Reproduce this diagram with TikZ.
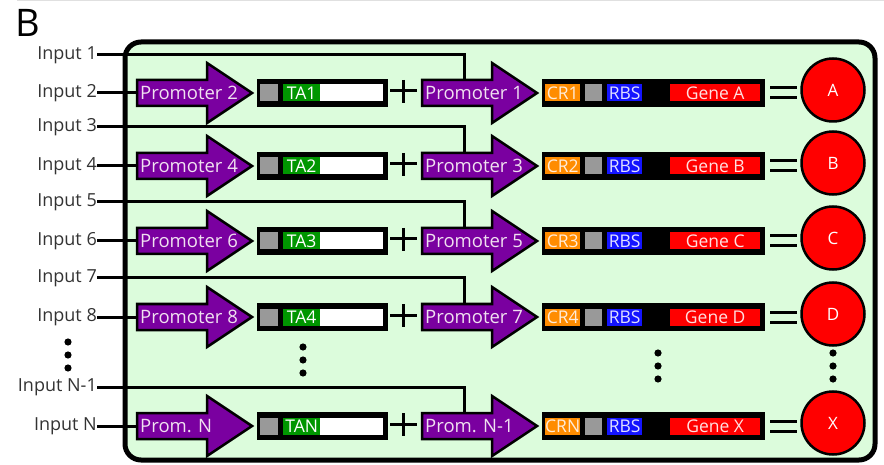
\documentclass[tikz,border=0pt]{standalone}
\usepackage{fontspec}
\setmainfont{Open Sans}
\usetikzlibrary{positioning}

\definecolor{panelgreen}{RGB}{220,252,220}
\definecolor{promopurple}{RGB}{122,0,160}
\definecolor{tagreen}{RGB}{0,150,0}
\definecolor{crorange}{RGB}{255,140,0}
\definecolor{rbsblue}{RGB}{20,20,255}
\definecolor{genered}{RGB}{255,0,0}

\tikzset{
  inlabel/.style={inner sep=0pt, anchor=east, text=black!80,
    font=\fontsize{18}{18}\selectfont},
  wire/.style={line width=3pt},
  promo/.style={fill=promopurple, draw=black, line width=2.5pt, line join=miter},
  promotext/.style={inner sep=0pt, anchor=west, text=violet!12!white,
    font=\fontsize{18.5}{18.5}\selectfont},
  part/.style={draw=black, line width=3pt, fill=black, inner sep=0pt,
    minimum height=25pt, anchor=west},
  chunk/.style={inner sep=0pt, minimum height=17pt, anchor=west,
    font=\fontsize{17.5}{17.5}\selectfont},
  product/.style={circle, draw=black, line width=2.5pt, fill=genered,
    minimum size=63pt, inner sep=0pt, text=white,
    font=\fontsize{17}{17}\selectfont},
  bar/.style={line width=3pt},
  dot/.style={fill=black}
}

% promoter arrow: name, x, y, text
\newcommand{\promarrow}[4]{%
  \draw[promo] (#2,#3-13) -- ++(70,0) -- ++(0,-17) -- ++(45,30)
    -- ++(-45,30) -- ++(0,-17) -- ++(-70,0) -- cycle;
  \coordinate (#1-w) at (#2,#3);
  \coordinate (#1-n) at (#2+42,#3-13);
  \coordinate (#1-tip) at (#2+115,#3);
  \node[promotext] (#1) at (#2+3,#3) {#4};
}

\begin{document}
\begin{tikzpicture}[x=1pt, y=-1pt]
  \useasboundingbox (0,0) rectangle (884,465);
  \draw[black!12, line width=1pt] (17,1) -- (884,1);
  \node[anchor=base west, inner sep=0pt, font=\fontsize{38}{38}\selectfont]
    (panel) at (15,37) {B};
  \draw[line width=5pt, fill=panelgreen, rounded corners=16pt]
    (125,42) rectangle (875,460);

  \foreach \i/\y/\ya/\na/\nb/\pa/\pb/\ta/\cr/\g/\c in
    {1/93/55/Input 1/Input 2/Promoter 2/Promoter 1/TA1/CR1/Gene A/A,
     2/166/127/Input 3/Input 4/Promoter 4/Promoter 3/TA2/CR2/Gene B/B,
     3/241/202/Input 5/Input 6/Promoter 6/Promoter 5/TA3/CR3/Gene C/C,
     4/317/278/Input 7/Input 8/Promoter 8/Promoter 7/TA4/CR4/Gene D/D,
     5/426/387/Input N-1/Input N/Prom. N/Prom. N-1/TAN/CRN/Gene X/X} {
    % inputs
    \node[inlabel] (ina\i) at (97,\ya) {\na};
    \node[inlabel] (inb\i) at (97,\y) {\nb};
    % activator promoter and TA part
    \promarrow{pb\i}{137}{\y}{\pa}
    \node[part, minimum width=128pt] (ta\i) at (257,\y) {};
    \node[chunk, fill=black!40, minimum width=18pt] (tag\i) at (260,\y) {};
    \node[chunk, fill=tagreen, minimum width=37pt, text=white] (tan\i)
      at (283,\y) {\ta};
    \node[chunk, fill=white, minimum width=63pt] (taw\i) at (320,\y) {};
    \draw[bar] (390,\y-2) -- (417,\y-2) (403.5,\y-13) -- (403.5,\y+10);
    % target promoter and gene
    \promarrow{pa\i}{422}{\y}{\pb}
    \node[part, minimum width=220pt] (cr\i) at (542,\y) {};
    \node[chunk, fill=crorange, minimum width=35pt, text=orange!15!white]
      (crn\i) at (545,\y) {\cr};
    \node[chunk, fill=black!40, minimum width=17pt] (crg\i) at (585,\y) {};
    \node[chunk, fill=rbsblue, minimum width=35pt, text=blue!12!white]
      (rbs\i) at (607,\y) {RBS};
    \node[chunk, fill=genered, minimum width=90pt, text=red!12!white]
      (gene\i) at (670,\y) {\g};
    \draw[bar] (770,\y-5) -- (797,\y-5) (770,\y+5) -- (797,\y+5);
    \node[product] (prod\i) at (833,\y-3) {\c};
    % wiring
    \draw[wire] (inb\i.east) -- (pb\i-w);
    \draw[wire] (ina\i.east) -| (pa\i-n);
  }

  % continuation dots
  \foreach \x/\y in {68/342, 303/347, 658/353, 833/353} {
    \foreach \k in {0,1,2} {
      \fill[dot] (\x,\y+13*\k) circle (3.6pt);
    }
  }
\end{tikzpicture}
\end{document}
